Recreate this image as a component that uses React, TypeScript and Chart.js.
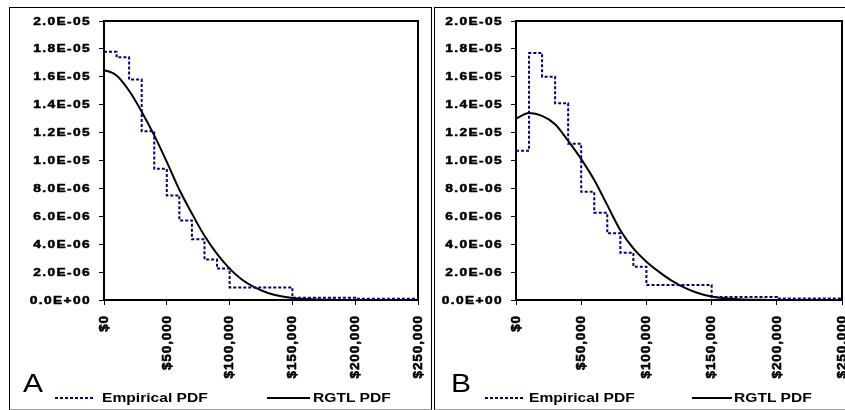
import React, { useEffect, useRef } from "react";
import { Chart, registerables } from "chart.js";

Chart.register(...registerables);

// ---- data ----
const panelLetters = ["A", "B"];
const seriesNames = ["Empirical PDF", "RGTL PDF"];

// empirical histogram: bin start values (last point closes the final bin)
const empiricalX = [0, 10000, 20000, 30000, 40000, 50000, 60000, 70000, 80000, 90000, 100000, 150000, 200000, 250000];
const empiricalA = [1.78e-5, 1.74e-5, 1.58e-5, 1.21e-5, 9.4e-6, 7.5e-6, 5.7e-6, 4.35e-6, 2.9e-6, 2.25e-6, 9.0e-7, 1.6e-7, 9e-8, 9e-8];
const empiricalB = [1.07e-5, 1.77e-5, 1.6e-5, 1.41e-5, 1.12e-5, 7.76e-6, 6.26e-6, 4.78e-6, 3.39e-6, 2.39e-6, 1.08e-6, 2.2e-7, 1e-7, 1e-7];

const curveX = [0, 10000, 20000, 30000, 40000, 50000, 60000, 70000, 80000, 90000, 100000, 110000, 120000, 130000, 140000, 150000, 160000, 170000, 180000, 190000, 200000, 210000, 220000, 230000, 240000, 250000];
const rgtlA = [1.65e-5, 1.61e-5, 1.5e-5, 1.35e-5, 1.18e-5, 9.9e-6, 7.9e-6, 6.2e-6, 4.6e-6, 3.3e-6, 2.25e-6, 1.45e-6, 9.0e-7, 5.2e-7, 2.8e-7, 1.4e-7, 7e-8, 3e-8, 1e-8, 0, 0, 0, 0, 0, 0, 0];
const rgtlB = [1.3e-5, 1.34e-5, 1.32e-5, 1.26e-5, 1.14e-5, 1.01e-5, 8.6e-6, 6.8e-6, 5.0e-6, 3.7e-6, 2.75e-6, 2.0e-6, 1.35e-6, 8.5e-7, 4.8e-7, 2.5e-7, 1.2e-7, 5e-8, 2e-8, 1e-8, 0, 0, 0, 0, 0, 0];

const xMin = 0;
const xMax = 250000;
const xStep = 50000;
const yMin = 0;
const yMax = 2e-5;
const yStep = 2e-6;

const NAVY = "#000080";
const FONT = "'Liberation Sans', Arial, sans-serif";

function sci(v: number): string {
  if (Math.abs(v) < 1e-12) return "0.0E+00";
  const [m, e] = v.toExponential(1).split("e");
  const n = parseInt(e, 10);
  return m + "E" + (n < 0 ? "-" : "+") + String(Math.abs(n)).padStart(2, "0");
}

function money(v: number): string {
  return "$" + Number(v).toLocaleString("en-US");
}

// plot frame (top/right) and tick labels in the wide, heavy style of the original
const framePlugin = {
  id: "frame",
  afterDraw(chart: any) {
    const { ctx, chartArea: a } = chart;
    ctx.save();
    ctx.strokeStyle = "#000";
    ctx.lineWidth = 2;
    ctx.beginPath();
    ctx.moveTo(a.left, a.top);
    ctx.lineTo(a.right, a.top);
    ctx.lineTo(a.right, a.bottom);
    ctx.stroke();
    ctx.restore();

    // y labels
    const ys = chart.scales.y;
    ctx.save();
    ctx.fillStyle = "#000";
    ctx.strokeStyle = "#000";
    ctx.lineWidth = 0.5;
    ctx.lineJoin = "round";
    ctx.font = `bold 11px ${FONT}`;
    (ctx as any).letterSpacing = "1.1px";
    ctx.textAlign = "right";
    ctx.textBaseline = "middle";
    for (const t of ys.ticks) {
      const py = ys.getPixelForValue(t.value);
      ctx.save();
      ctx.translate(a.left - 13, py + 0.5);
      ctx.scale(1.25, 1);
      ctx.fillText(String(t.label), 0, 0);
      ctx.strokeText(String(t.label), 0, 0);
      ctx.restore();
    }
    ctx.restore();

    // x labels (rotated, reading upward)
    const xs = chart.scales.x;
    ctx.save();
    ctx.fillStyle = "#000";
    ctx.strokeStyle = "#000";
    ctx.lineWidth = 0.6;
    ctx.lineJoin = "round";
    ctx.font = `bold 13.5px ${FONT}`;
    (ctx as any).letterSpacing = "0.9px";
    ctx.textAlign = "right";
    ctx.textBaseline = "middle";
    for (const t of xs.ticks) {
      const px = xs.getPixelForValue(t.value);
      ctx.save();
      ctx.translate(px, a.bottom + 15);
      ctx.rotate(-Math.PI / 2);
      ctx.fillText(String(t.label), 0, 0);
      ctx.strokeText(String(t.label), 0, 0);
      ctx.restore();
    }
    ctx.restore();
  },
};

function buildConfig(emp: number[], rgtl: number[], yWidth: number, padRight: number): any {
  return {
    type: "line",
    data: {
      datasets: [
        {
          label: seriesNames[0],
          data: empiricalX.map((x, i) => ({ x, y: emp[i] })),
          borderColor: NAVY,
          borderWidth: 2,
          borderDash: [3, 2],
          borderCapStyle: "butt",
          stepped: true,
          pointRadius: 0,
          fill: false,
        },
        {
          label: seriesNames[1],
          data: curveX.map((x, i) => ({ x, y: rgtl[i] })),
          borderColor: "#000",
          borderWidth: 2,
          cubicInterpolationMode: "monotone",
          pointRadius: 0,
          fill: false,
        },
      ],
    },
    options: {
      animation: false,
      responsive: false,
      events: [],
      layout: { padding: { top: 13, right: padRight, left: 0, bottom: 0 } },
      plugins: { legend: { display: false }, tooltip: { enabled: false } },
      scales: {
        x: {
          type: "linear",
          min: xMin,
          max: xMax,
          afterFit: (s: any) => {
            s.height = 108;
            s.paddingLeft = 0;
            s.paddingRight = 0;
          },
          ticks: {
            display: false,
            stepSize: xStep,
            autoSkip: false,
            callback: (v: any) => money(Number(v)),
          },
          grid: { drawOnChartArea: false, drawTicks: true, tickLength: 5, color: "#000", tickColor: "#000", tickWidth: 1 },
          border: { display: true, color: "#000", width: 2 },
        },
        y: {
          type: "linear",
          min: yMin,
          max: yMax,
          afterFit: (s: any) => {
            s.width = yWidth;
          },
          ticks: {
            display: false,
            stepSize: yStep,
            callback: (v: any) => sci(Number(v)),
          },
          grid: { drawOnChartArea: false, drawTicks: true, tickLength: 5, color: "#000", tickColor: "#000", tickWidth: 1 },
          border: { display: true, color: "#000", width: 2 },
        },
      },
    },
    plugins: [framePlugin],
  };
}

const legendFont: React.CSSProperties = {
  position: "absolute",
  fontFamily: FONT,
  fontWeight: "bold",
  fontSize: 13,
  lineHeight: "13px",
  whiteSpace: "nowrap",
  transform: "scaleX(1.2)",
  transformOrigin: "left top",
  color: "#000",
};

const letterFont: React.CSSProperties = {
  position: "absolute",
  fontFamily: FONT,
  fontSize: 25,
  lineHeight: "25px",
  whiteSpace: "nowrap",
  transform: "scaleX(1.2)",
  transformOrigin: "left top",
  color: "#000",
};

function Legend(props: { letter: string; letterX: number; dotX: number; dotW: number; empX: number; solidX: number; solidW: number; rgtlX: number }) {
  const p = props;
  return (
    <>
      <div style={{ ...letterFont, left: p.letterX, top: 371 }}>{p.letter}</div>
      <div
        style={{
          position: "absolute",
          left: p.dotX,
          top: 397,
          width: p.dotW,
          height: 2,
          background: `repeating-linear-gradient(to right, ${NAVY} 0px, ${NAVY} 3px, transparent 3px, transparent 5px)`,
        }}
      />
      <div style={{ ...legendFont, left: p.empX, top: 391 }}>{seriesNames[0]}</div>
      <div style={{ position: "absolute", left: p.solidX, top: 397, width: p.solidW, height: 2, background: "#000" }} />
      <div style={{ ...legendFont, left: p.rgtlX, top: 391 }}>{seriesNames[1]}</div>
    </>
  );
}

export default function App() {
  const refA = useRef<HTMLCanvasElement>(null);
  const refB = useRef<HTMLCanvasElement>(null);

  useEffect(() => {
    const a = new Chart(refA.current as HTMLCanvasElement, buildConfig(empiricalA, rgtlA, 94, 12));
    const b = new Chart(refB.current as HTMLCanvasElement, buildConfig(empiricalB, rgtlB, 80, 3));
    return () => {
      a.destroy();
      b.destroy();
    };
  }, []);

  return (
    <div style={{ position: "absolute", left: 0, top: 0, width: 845, height: 410, background: "#fff", overflow: "hidden" }}>
      <div
        style={{
          position: "absolute",
          left: 9,
          top: 7,
          width: 423,
          height: 403,
          boxSizing: "border-box",
          borderLeft: "1px solid #000",
          borderTop: "1px solid #000",
          borderRight: "1px solid #000",
          borderBottom: "1px solid #a0a0a0",
        }}
      />
      <div
        style={{
          position: "absolute",
          left: 434,
          top: 7,
          width: 430,
          height: 403,
          boxSizing: "border-box",
          borderLeft: "1px solid #000",
          borderTop: "1px solid #000",
          borderBottom: "1px solid #a0a0a0",
        }}
      />
      <canvas ref={refA} width={420} height={400} style={{ position: "absolute", left: 10, top: 8, width: 420, height: 400 }} />
      <canvas ref={refB} width={409} height={400} style={{ position: "absolute", left: 436, top: 8, width: 409, height: 400 }} />
      <Legend letter={panelLetters[0]} letterX={23} dotX={55} dotW={40} empX={102} solidX={267} solidW={43} rgtlX={313} />
      <Legend letter={panelLetters[1]} letterX={451} dotX={485} dotW={39} empX={529} solidX={692} solidW={40} rgtlX={734} />
    </div>
  );
}
